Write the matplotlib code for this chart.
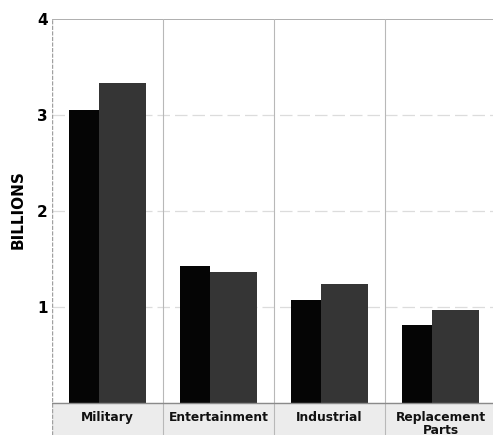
import matplotlib
matplotlib.use("Agg")
import matplotlib.pyplot as plt

categories = ["Military", "Entertainment", "Industrial", "Replacement\nParts"]
series_a = [3.05, 1.43, 1.07, 0.81]   # black bars
series_b = [3.33, 1.36, 1.24, 0.97]   # dark grey bars
yticks = [1, 2, 3, 4]

W, H = 493, 442
fig = plt.figure(figsize=(W/100, H/100), dpi=100)
fig.patch.set_facecolor("white")
ax = fig.add_axes([52/W, (H-435)/H, (W-52)/W, (435-19)/H])
ax.set_xlim(0, 441/111)
ax.set_ylim(-32/96, 4)

# label band
ax.axhspan(-32/96, 0, color="#ececec", zorder=0)
# grid
for v in [1, 2, 3]:
    ax.axhline(v, color="#dcdcdc", lw=0.9, ls=(0, (10, 4)), zorder=1)
ax.axhline(4, color="#a8a8a8", lw=1.3, zorder=1)
ax.axhline(0, color="#8a8a8a", lw=1.0, zorder=3)
for i in range(1, len(categories)):
    ax.axvline(i, color="#b8b8b8", lw=0.8, zorder=1)
ax.axvline(0, color="#a0a0a0", lw=1.0, ls=(0, (3, 1)), zorder=1)

for i, (a, b) in enumerate(zip(series_a, series_b)):
    ax.bar(i + 0.15, a, width=0.27, align="edge", color="#050505", zorder=2)
    ax.bar(i + 0.42, b, width=0.43, align="edge", color="#353535", zorder=2)
    ax.text(i + 0.5, -0.085, categories[i], ha="center", va="top",
            fontsize=8.8, fontweight="bold", color="#111111",
            linespacing=0.95, zorder=4, clip_on=False)

for s in ax.spines.values():
    s.set_visible(False)
ax.set_xticks([])
ax.set_yticks(yticks)
ax.set_yticklabels([str(t) for t in yticks], fontsize=11, fontweight="bold")
ax.tick_params(axis="y", length=0, pad=3)
fig.text(18/W, 1 - 210/H, "BILLIONS", rotation=90, ha="center", va="center",
         fontsize=11, fontweight="bold")

fig.savefig("out.png", dpi=100)
